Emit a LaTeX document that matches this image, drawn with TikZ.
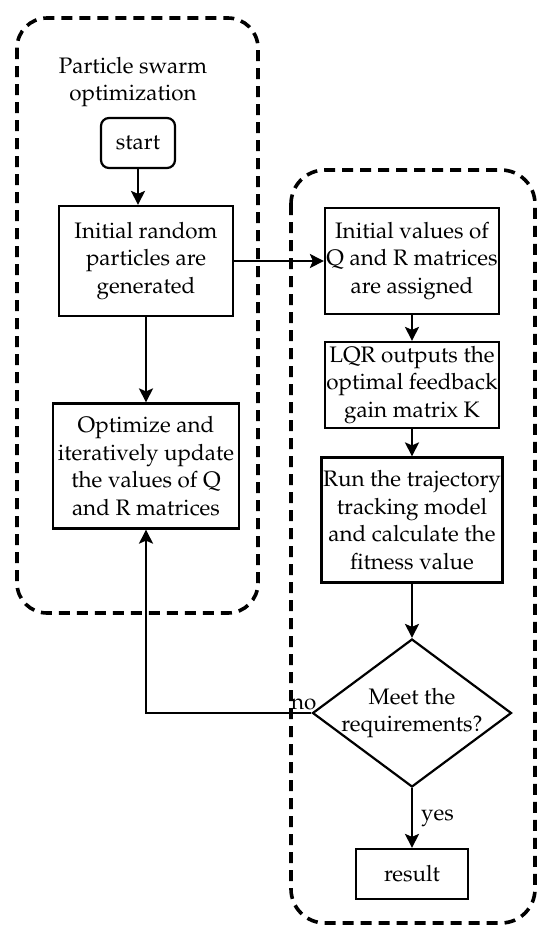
\documentclass[tikz,border=0pt]{standalone}
\usepackage[T1]{fontenc}
\usepackage{mathpazo}
\usetikzlibrary{shapes.geometric,arrows.meta}
\begin{document}
\begin{tikzpicture}[x=0.5pt,y=-0.5pt,
        font=\fontsize{11.2}{13.8}\selectfont,
        box/.style={draw,line width=1.1pt,align=center,inner sep=0pt},
        decision/.style={draw,diamond,line width=1.1pt,inner sep=0pt,
            minimum width=99.5pt,minimum height=74pt},
        flow/.style={line width=1.1pt,-{Stealth[length=7pt,width=7pt,inset=1.5pt]}},
        group/.style={line width=1.8pt,dash pattern=on 5.5pt off 3.5pt}]
    \useasboundingbox (0,0) rectangle (550,939);
        % the two dashed groups
        \draw[group,rounded corners=15pt] (17,18) rectangle (258,613);
        \draw[group,rounded corners=17pt] (291,170) rectangle (535,923);
        % particle swarm side
        \node[align=center] (pso) at (133,82) {Particle swarm\\optimization};
        \node[box,rounded corners=4pt,minimum width=37pt,minimum height=25pt] (start) at (138,143) {start};
        \node[box,minimum width=87pt,minimum height=55pt] (init) at (146,261) {Initial random\\particles are\\generated};
        \node[box,minimum width=93pt,minimum height=62.5pt] (update) at (146,466) {Optimize and\\iteratively update\\the values of Q\\and R matrices};
        % LQR side
        \node[box,minimum width=87pt,minimum height=53pt] (assign) at (412,261) {Initial values of\\Q and R matrices\\are assigned};
        \node[box,minimum width=87pt,minimum height=43pt] (lqr) at (412,385) {LQR outputs the\\optimal feedback\\gain matrix K};
        \node[box,minimum width=90.5pt,minimum height=62.5pt] (run) at (412,520) {Run the trajectory\\tracking model\\and calculate the\\fitness value};
        \node[decision,label={[align=center]center:Meet the\\requirements?}] (meet) at (412,713) {};
        \node[box,minimum width=56pt,minimum height=25pt] (result) at (412,874) {result};
        % connectors
        \draw[flow] (start.south) -- (start.south |- init.north);
        \draw[flow] (init) -- (update);
        \draw[flow] (init) -- (assign);
        \draw[flow] (assign) -- (lqr);
        \draw[flow] (lqr) -- (run);
        \draw[flow] (run) -- (meet);
        \draw[flow] (meet) -- node[right,inner sep=4pt]{yes} (result);
        \draw[flow] (meet.west) node[above left,inner sep=1pt,xshift=4pt]{no} -| (update.south);
    \end{tikzpicture}
\end{document}
